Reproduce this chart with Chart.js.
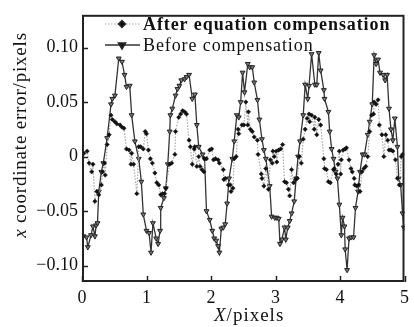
<!DOCTYPE html>
<html>
<head>
<meta charset="utf-8">
<script src="https://cdn.jsdelivr.net/npm/chart.js@4"></script>
<style>
  html, body { margin: 0; padding: 0; background: #fff; }
  canvas { display: block; }
</style>
</head>
<body>
<canvas id="myChart" width="414" height="327"></canvas>
<script>
// series
const beforeX = [0.02,0.07,0.09,0.14,0.17,0.20,0.22,0.24,0.26,0.30,0.33,0.39,0.45,0.47,0.51,0.57,0.62,0.66,0.69,0.74,0.77,0.82,0.88,0.92,0.95,1.00,
  1.04,1.07,1.10,1.15,1.18,1.21,1.22,1.27,1.30,1.33,1.36,1.37,1.40,1.45,1.48,1.51,1.54,1.59,1.62,1.66,1.71,1.75,1.78,1.81,1.87,1.90,1.93,1.98,
  2.02,2.05,2.08,2.11,2.13,2.16,2.19,2.22,2.25,2.28,2.33,2.36,2.40,2.43,2.46,2.49,2.52,2.57,2.60,2.64,2.67,2.72,2.75,2.79,2.82,2.85,2.91,2.94,2.99,
  3.02,3.05,3.07,3.10,3.14,3.16,3.19,3.22,3.25,3.29,3.32,3.35,3.38,3.43,3.46,3.50,3.52,3.56,3.61,3.64,3.67,3.70,3.75,3.76,3.82,3.84,3.87,3.90,3.93,3.96,3.99,
  4.02,4.04,4.07,4.08,4.11,4.14,4.17,4.21,4.24,4.28,4.31,4.35,4.38,4.43,4.46,4.50,4.53,4.56,4.59,4.62,4.67,4.70,4.73,4.76,4.79,4.82,4.85,4.89,4.91,4.94,4.97,4.99];
const beforeY = [-0.073,-0.074,-0.083,-0.072,-0.064,-0.073,-0.063,-0.061,-0.032,-0.014,-0.006,0.017,0.048,0.053,0.056,0.090,0.087,0.075,0.064,0.065,0.038,0.014,-0.002,-0.023,-0.053,-0.068,
  -0.070,-0.088,-0.061,-0.075,-0.080,-0.068,-0.047,-0.038,-0.029,-0.007,0.023,0.038,0.044,0.056,0.062,0.065,0.070,0.071,0.073,0.075,0.053,0.057,0.029,0.009,0.002,-0.002,-0.050,-0.058,
  -0.068,-0.075,-0.077,-0.082,-0.088,-0.066,-0.065,-0.062,-0.043,-0.020,-0.002,0.014,0.038,0.036,0.050,0.077,0.059,0.085,0.082,0.082,0.068,0.052,0.034,0.016,0.006,-0.002,-0.027,-0.055,-0.056,
  -0.056,-0.057,-0.080,-0.076,-0.065,-0.076,-0.065,-0.059,-0.052,-0.041,-0.020,0.000,0.014,0.038,0.066,0.053,0.065,0.094,0.066,0.066,0.095,0.079,0.061,0.053,0.041,0.023,0.007,-0.002,-0.014,-0.020,-0.044,
  -0.072,-0.056,-0.064,-0.085,-0.104,-0.075,-0.074,-0.074,-0.047,-0.032,-0.014,0.002,0.002,0.020,0.032,0.048,0.093,0.085,0.089,0.077,0.075,0.070,0.075,0.044,0.025,0.015,0.035,0.009,-0.020,-0.026,-0.052,-0.065];

const afterX = [0.03,0.08,0.11,0.15,0.17,0.20,0.23,0.26,0.30,0.32,0.35,0.36,0.39,0.42,0.45,0.47,0.51,0.54,0.59,0.62,0.65,0.69,0.73,0.76,0.77,0.80,0.85,0.88,0.91,0.95,0.98,
  1.00,1.03,1.06,1.09,1.13,1.16,1.19,1.22,1.25,1.28,1.30,1.36,1.39,1.44,1.45,1.50,1.53,1.56,1.59,1.62,1.66,1.68,1.71,1.74,1.75,1.78,1.81,1.83,1.86,1.89,1.90,1.93,1.98,
  2.01,2.04,2.07,2.11,2.13,2.19,2.20,2.22,2.27,2.30,2.31,2.34,2.36,2.39,2.42,2.43,2.48,2.51,2.54,2.57,2.58,2.61,2.64,2.67,2.72,2.73,2.78,2.79,2.82,2.85,2.89,2.92,2.95,2.96,
  2.98,3.01,3.02,3.05,3.08,3.11,3.14,3.17,3.20,3.22,3.25,3.28,3.31,3.34,3.37,3.40,3.43,3.46,3.49,3.52,3.53,3.56,3.60,3.61,3.64,3.67,3.70,3.75,3.76,3.79,3.82,3.85,3.90,3.91,3.94,3.97,3.99,
  4.01,4.02,4.05,4.08,4.10,4.14,4.17,4.19,4.22,4.23,4.26,4.29,4.31,4.34,4.37,4.40,4.43,4.46,4.49,4.52,4.53,4.56,4.59,4.61,4.65,4.68,4.71,4.74,4.76,4.79,4.82,4.86,4.89,4.92,4.95,4.97];
const afterY = [0.003,0.005,-0.006,-0.014,-0.007,-0.041,-0.032,-0.035,-0.026,-0.014,-0.006,-0.017,0.011,0.020,0.038,0.034,0.032,0.030,0.029,0.027,0.026,0.007,0.006,-0.007,0.003,-0.007,-0.034,0.009,0.009,0.007,0.023,
  0.021,0.006,-0.002,-0.006,-0.015,-0.024,-0.026,-0.035,-0.034,-0.034,-0.029,-0.007,-0.006,0.002,0.023,0.036,0.039,0.042,0.041,0.039,0.015,0.009,-0.007,0.007,0.009,-0.009,0.000,-0.009,-0.012,-0.014,-0.002,-0.002,0.006,
  0.007,-0.003,-0.002,-0.003,-0.006,-0.012,-0.021,-0.020,-0.026,-0.026,-0.032,-0.029,-0.002,0.000,0.025,0.021,0.029,0.029,0.050,0.029,0.041,0.025,0.023,0.018,0.015,0.002,-0.016,-0.020,-0.027,-0.011,-0.030,-0.003,-0.006,0.005,
  0.000,0.005,-0.005,0.006,0.007,0.011,-0.023,-0.024,-0.030,-0.036,-0.012,-0.024,-0.021,-0.020,0.000,-0.006,0.016,0.025,0.035,0.039,0.032,0.038,0.025,0.036,0.020,0.034,0.029,-0.002,-0.011,-0.012,-0.023,-0.024,-0.012,-0.011,-0.016,-0.007,0.005,
  -0.016,-0.003,0.006,0.007,0.008,-0.003,-0.011,-0.014,-0.020,-0.026,-0.027,-0.026,-0.032,-0.014,-0.011,-0.009,0.000,0.023,0.038,0.039,0.050,0.048,0.052,0.029,0.020,0.000,0.020,0.015,0.006,0.006,0.005,-0.003,-0.020,-0.026,0.000,0.002];

const xTickValues = [0, 1, 2, 3, 4, 5];
const yTickValues = [-0.10, -0.05, 0, 0.05, 0.10];
const yTickLabels = ["\u22120.10", "\u22120.05", "0", "0.05", "0.10"];
const seriesNames = ["After equation compensation", "Before compensation"];

const SERIF = '"Liberation Serif", "DejaVu Serif", serif';

function toPoints(xs, ys) {
    return xs.map((x, i) => ({ x: x, y: ys[i] }));
}

// frame, inward ticks, legend and axis titles
const decor = {
    id: 'decor',
    afterDatasetsDraw(chart) {
        const ctx = chart.ctx;
        const a = chart.chartArea;
        const xs = chart.scales.x, ys = chart.scales.y;
        ctx.save();

        ctx.strokeStyle = '#222';
        ctx.lineWidth = 1.5;
        ctx.beginPath();
        xTickValues.forEach(v => {
            const px = Math.round(xs.getPixelForValue(v)) + 0.5;
            ctx.moveTo(px, a.bottom);
            ctx.lineTo(px, a.bottom - 6);
        });
        yTickValues.forEach(v => {
            const py = Math.round(ys.getPixelForValue(v)) + 0.5;
            ctx.moveTo(a.left, py);
            ctx.lineTo(a.left + 6, py);
        });
        ctx.stroke();

        ctx.lineWidth = 2;
        ctx.strokeRect(a.left + 1, a.top + 1, a.right - a.left - 2, a.bottom - a.top - 2);

        // legend
        const ds = chart.data.datasets;
        const rows = [24, 45];
        rows.forEach((y, i) => {
            const d = ds[i];
            ctx.save();
            ctx.strokeStyle = d.borderColor;
            ctx.lineWidth = d.borderWidth;
            ctx.setLineDash(d.borderDash || []);
            ctx.beginPath();
            ctx.moveTo(105, y);
            ctx.lineTo(140, y);
            ctx.stroke();
            ctx.restore();
            Chart.helpers.drawPoint(ctx, {
                pointStyle: d.pointStyle,
                rotation: d.pointRotation || 0,
                radius: d.pointRadius + 0.8,
                borderWidth: 1
            }, 122, y);
            ctx.fillStyle = '#111';
            ctx.font = (i === 0 ? 'bold ' : '') + '18px ' + SERIF;
            ctx.letterSpacing = '0.9px';
            ctx.textBaseline = 'alphabetic';
            ctx.textAlign = 'left';
            ctx.fillText(seriesNames[i], 143, y + 6);
        });

        // y title
        ctx.save();
        ctx.translate(21, 135);
        ctx.rotate(-Math.PI / 2);
        ctx.fillStyle = '#111';
        ctx.letterSpacing = '0.8px';
        const it = 'italic 19px ' + SERIF, rg = '19px ' + SERIF;
        ctx.font = it;
        const w1 = ctx.measureText('x').width;
        ctx.font = rg;
        const rest = ' coordinate error/pixels';
        const w2 = ctx.measureText(rest).width;
        const x0 = -(w1 + w2) / 2;
        ctx.textBaseline = 'middle';
        ctx.font = it;
        ctx.fillText('x', x0, 0);
        ctx.font = rg;
        ctx.fillText(rest, x0 + w1, 0);
        ctx.restore();

        // x title
        ctx.letterSpacing = '1px';
        ctx.font = it;
        ctx.textBaseline = 'alphabetic';
        const wx = ctx.measureText('X').width;
        ctx.fillText('X', 214, 321);
        ctx.font = rg;
        ctx.fillText('/pixels', 214 + wx, 321);

        ctx.restore();
    }
};

const ctx = document.getElementById("myChart").getContext("2d");
const chart = new Chart(ctx, {
    type: "line",
    data: {
        datasets: [
            {
                label: seriesNames[0],
                data: toPoints(afterX, afterY),
                borderColor: "#a8a8a8",
                borderWidth: 1.2,
                borderDash: [1.5, 1.5],
                pointStyle: "rectRot",
                pointRadius: 2.2,
                pointBackgroundColor: "#111",
                pointBorderColor: "#111",
                pointBorderWidth: 0.5,
                tension: 0,
            },
            {
                label: seriesNames[1],
                data: toPoints(beforeX, beforeY),
                borderColor: "#333",
                borderWidth: 1.3,
                pointStyle: "triangle",
                pointRotation: 180,
                pointRadius: 2.8,
                pointBackgroundColor: "#777",
                pointBorderColor: "#222",
                pointBorderWidth: 1,
                tension: 0,
            },
        ]
    },
    options: {
        responsive: false,
        animation: false,
        devicePixelRatio: 1,
        layout: { padding: { top: 12, right: 0, left: 0, bottom: 0 } },
        plugins: {
            legend: { display: false },
            tooltip: { enabled: false },
        },
        scales: {
            x: {
                type: "linear",
                min: 0,
                max: 5,
                afterBuildTicks: s => { s.ticks = xTickValues.map(v => ({ value: v })); },
                afterFit: s => { s.height = 45; },
                grid: { display: false, drawTicks: false },
                border: { display: false },
                ticks: { color: "#111", padding: 5, maxRotation: 0, font: { family: SERIF, size: 18 } },
            },
            y: {
                min: -0.115,
                max: 0.13,
                afterBuildTicks: s => { s.ticks = yTickValues.map(v => ({ value: v })); },
                afterFit: s => { s.width = 82; },
                grid: { display: false, drawTicks: false },
                border: { display: false },
                ticks: {
                    color: "#111",
                    padding: 4,
                    font: { family: SERIF, size: 18 },
                    callback: (v, i) => yTickLabels[i],
                },
            },
        },
    },
    plugins: [decor],
});
</script>
</body>
</html>
